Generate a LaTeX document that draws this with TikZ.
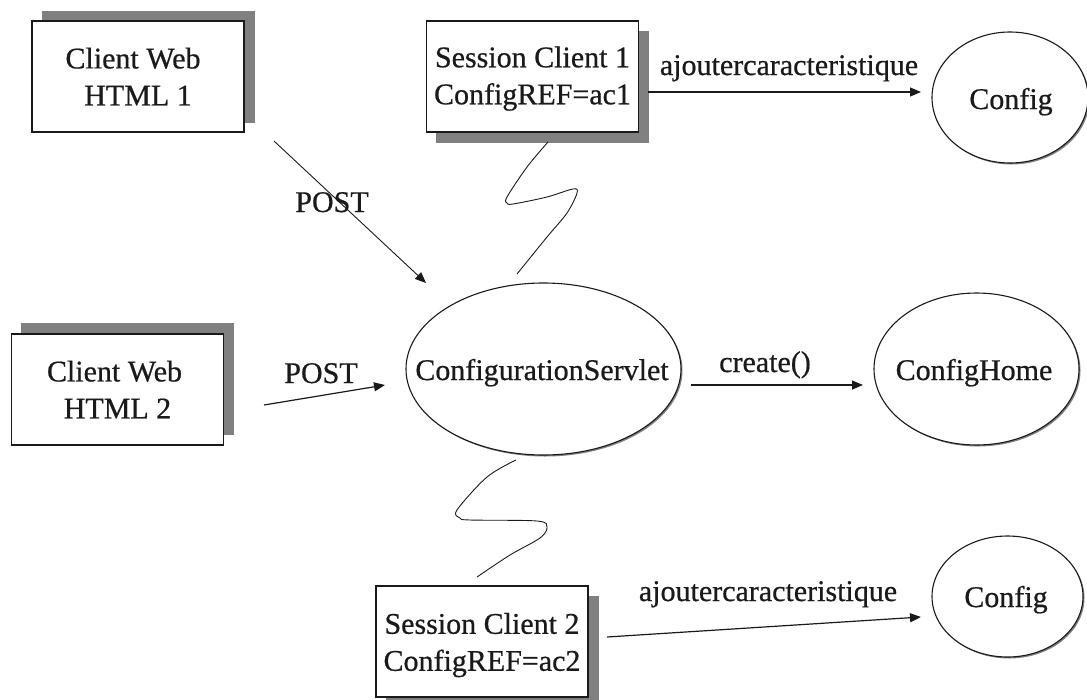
\documentclass[tikz,border=0pt]{standalone}
\usepackage{fontspec}
\setmainfont[FakeBold=0.6]{Liberation Serif}
\usetikzlibrary{arrows.meta,shapes.geometric}
\definecolor{shadowgray}{HTML}{808080}
\definecolor{ink}{HTML}{1A1A1A}
\tikzset{
  x=1pt,y=-1pt,
  every node/.style={font=\fontsize{30}{37}\selectfont,text=ink},
  boxnode/.style={draw=ink,line width=1.4pt,fill=white,minimum width=212pt,minimum height=111pt,inner sep=0pt,align=center},
  boxshadow/.style={fill=shadowgray,draw=none,minimum width=213pt,minimum height=112pt,inner sep=0pt},
  ovalnode/.style={ellipse,draw=ink,line width=1.1pt,fill=white,inner sep=0pt},
  ovalshadow/.style={ellipse,fill=shadowgray,draw=none,inner sep=0pt},
  conn/.style={draw=ink,line width=1.2pt,-{Triangle[length=11pt,width=9pt]}},
  squiggle/.style={draw=ink,line width=0.9pt},
  lbl/.style={inner sep=0pt,anchor=base}
}
\begin{document}
\begin{tikzpicture}
\useasboundingbox (0,0) rectangle (1087,699);
% shadows
\node[boxshadow] at (148,66.5) {};
\node[boxshadow] at (127.5,379) {};
\node[boxshadow] at (542.5,86.5) {};
\node[boxshadow] at (492,651.5) {};
% boxes
\node[boxnode] (c1) at (138,76.5) {\hspace*{-10pt}Client Web\\HTML 1};
\node[boxnode] (c2) at (117.5,389.5) {\hspace*{-6pt}Client Web\\HTML 2};
\node[boxnode] (s1) at (532.5,76.5) {\rule{0pt}{25pt}Session Client 1\\ConfigREF=ac1};
\node[boxnode] (s2) at (482,641.5) {\rule{0pt}{28pt}Session Client 2\\ConfigREF=ac2};
% ellipses
\node[ovalshadow,minimum width=275pt,minimum height=172pt] at (545,370.5) {};
\node[ovalnode,minimum width=275pt,minimum height=172pt] (cs) at (543.5,369) {};
\node[ovalshadow,minimum width=205pt,minimum height=152pt] at (978,370.5) {};
\node[ovalnode,minimum width=205pt,minimum height=152pt] (ch) at (976.5,369) {};
\node[ovalshadow,minimum width=156pt,minimum height=131pt] at (1011.5,99) {};
\node[ovalnode,minimum width=156pt,minimum height=131pt] (cf1) at (1010,97.5) {};
\node[ovalshadow,minimum width=151pt,minimum height=121pt] at (1009,598) {};
\node[ovalnode,minimum width=151pt,minimum height=121pt] (cf2) at (1007.5,596.5) {};
% ellipse texts
\node[lbl] (csl) at (542,380) {ConfigurationServlet};
\node[lbl] (chl) at (974,380) {ConfigHome};
\node[lbl] (cf1l) at (1011,109) {Config};
\node[lbl] (cf2l) at (1006,607) {Config};
% connector ends
\coordinate (p1a) at (274,141); \coordinate (p1b) at (426,283);
\coordinate (p2a) at (264,405); \coordinate (p2b) at (385,385);
\coordinate (a1a) at (648,92); \coordinate (a1b) at (921,92);
\coordinate (a2a) at (607,637); \coordinate (a2b) at (921,617);
\coordinate (cra) at (691,385); \coordinate (crb) at (863,385);
% connectors
\draw[conn,line width=0.9pt] (p1a) -- (p1b);
\draw[conn] (p2a) -- (p2b);
\draw[conn] (a1a) -- (a1b);
\draw[conn] (a2a) -- (a2b);
\draw[conn] (cra) -- (crb);
\draw[squiggle] plot[smooth,tension=0.55] coordinates {(548,142) (527,167) (507,197) (507,203) (513,204) (547,197) (573,189) (577,193) (567,213) (547,237) (517,274)};
\draw[squiggle] plot[smooth,tension=0.55] coordinates {(516,460) (487,477) (457,510) (460,518) (470,520) (537,521) (547,527) (540,538) (510,555) (477,577)};
% labels
\node[lbl] (l1) at (332,212) {POST};
\node[lbl] (l2) at (321,383) {POST};
\node[lbl] (l3) at (789,75) {ajoutercaracteristique};
\node[lbl] (l4) at (768,601) {ajoutercaracteristique};
\node[lbl] (l5) at (765,372) {create()};
\end{tikzpicture}
\end{document}
